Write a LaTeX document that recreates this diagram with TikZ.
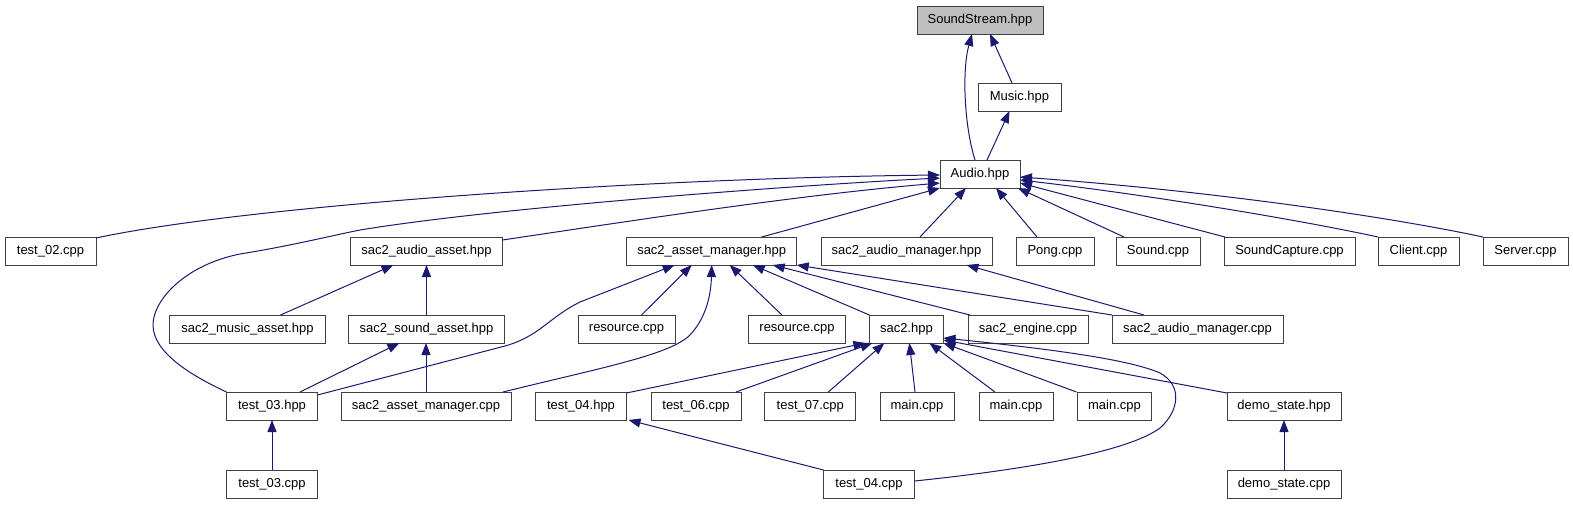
\documentclass[tikz,border=0pt]{standalone}
\usepackage{fontspec}
\setmainfont{Liberation Sans}
\usetikzlibrary{arrows.meta,calc}
\definecolor{edgeblue}{HTML}{191970}
\definecolor{boxline}{HTML}{404040}
\definecolor{boxgray}{HTML}{BFBFBF}
\tikzset{
  box/.style={draw=boxline, line width=1pt, fill=white, minimum height=28pt, inner sep=0pt, outer sep=0pt, font={\fontsize{13pt}{15pt}\selectfont}},
  bw/.style={minimum width=#1pt},
  dep/.style={draw=edgeblue, line width=1pt, -{Triangle[length=12pt,width=9pt]}}
}
\begin{document}
\begin{tikzpicture}[x=1pt,y=-1pt]
\useasboundingbox (0,0) rectangle (1573,504);
% row 0-2
\node[box,bw=126,fill=boxgray] (ss) at (980,20) {SoundStream.hpp};
\node[box,bw=83] (music) at (1019.5,97) {Music.hpp};
\node[box,bw=80] (audio) at (980,174) {Audio.hpp};
% row 3
\node[box,bw=91] (test02) at (50.5,251) {test\_02.cpp};
\node[box,bw=152] (audioasset) at (426.5,251) {sac2\_audio\_asset.hpp};
\node[box,bw=170] (assetmgr) at (711.7,251) {sac2\_asset\_manager.hpp};
\node[box,bw=171] (audiomgrh) at (906.5,251) {sac2\_audio\_manager.hpp};
\node[box,bw=78] (pong) at (1055,251) {Pong.cpp};
\node[box,bw=84] (sound) at (1158,251) {Sound.cpp};
\node[box,bw=131] (capture) at (1289.5,251) {SoundCapture.cpp};
\node[box,bw=81] (client) at (1418.5,251) {Client.cpp};
\node[box,bw=85] (server) at (1525.5,251) {Server.cpp};
% row 4
\node[box,bw=156] (musicasset) at (247.5,329) {sac2\_music\_asset.hpp};
\node[box,bw=156] (soundasset) at (426.5,329) {sac2\_sound\_asset.hpp};
\node[box,bw=97] (res1) at (626.5,329) {resource.cpp};
\node[box,bw=97] (res2) at (797,329) {resource.cpp};
\node[box,bw=74] (sac2) at (906.4,329) {sac2.hpp};
\node[box,bw=120] (engine) at (1028,329) {sac2\_engine.cpp};
\node[box,bw=171] (audiomgrc) at (1197.5,329) {sac2\_audio\_manager.cpp};
% row 5
\node[box,bw=91] (test03h) at (272,406) {test\_03.hpp};
\node[box,bw=170] (assetmgrc) at (426,406) {sac2\_asset\_manager.cpp};
\node[box,bw=91] (test04h) at (581,406) {test\_04.hpp};
\node[box,bw=90] (test06) at (696,406) {test\_06.cpp};
\node[box,bw=91] (test07) at (810.3,406) {test\_07.cpp};
\node[box,bw=74] (main1) at (917,406) {main.cpp};
\node[box,bw=74] (main2) at (1016,406) {main.cpp};
\node[box,bw=74] (main3) at (1114.5,406) {main.cpp};
\node[box,bw=114] (demoh) at (1284,406) {demo\_state.hpp};
% row 6
\node[box,bw=91] (test03c) at (272,484) {test\_03.cpp};
\node[box,bw=91] (test04c) at (869,484) {test\_04.cpp};
\node[box,bw=114] (democ) at (1284,484) {demo\_state.cpp};

% top edges
\draw[dep] ($(audio.north)+(-5,0)$) .. controls (964,125) and (962,70) .. ($(ss.south)+(-8,0)$);
\draw[dep] ($(music.north)+(-7.5,0)$) -- ($(ss.south)+(10,0)$);
\draw[dep] ($(audio.north)+(7,0)$) -- ($(music.south)+(-10,0)$);
% into Audio.hpp
\draw[dep] ($(test02.north east)+(0,1)$) .. controls (250,205) and (650,178) .. ($(audio.west)+(0,1)$);
\draw[dep] (test03h.north west) .. controls (190,375) and (153,352) .. (153,325)
  .. controls (153,300) and (185,265) .. (240,254)
  .. controls (290,246) and (330,236) .. (360,230)
  .. controls (500,207) and (800,185) .. ($(audio.west)+(0,4)$);
\draw[dep] ($(audioasset.north east)+(0,3)$) .. controls (650,218) and (800,195) .. ($(audio.west)+(0,9)$);
\draw[dep] ($(assetmgr.north)+(50,0)$) -- (audio.south west);
\draw[dep] ($(audiomgrh.north)+(13.5,0)$) -- ($(audio.south)+(-14,0)$);
\draw[dep] ($(pong.north)+(-18,0)$) -- ($(audio.south)+(16,0)$);
\draw[dep] ($(sound.north)+(-34,0)$) -- ($(audio.south east)+(-2,0)$);
\draw[dep] ($(capture.north west)+(1,0)$) -- ($(audio.east)+(0,9)$);
\draw[dep] (client.north west) .. controls (1300,220) and (1150,195) .. ($(audio.east)+(0,6)$);
\draw[dep] (server.north west) .. controls (1380,215) and (1200,190) .. ($(audio.east)+(0,3)$);
% row 4 -> row 3
\draw[dep] ($(musicasset.north)+(33,0)$) -- ($(audioasset.south)+(-33,0)$);
\draw[dep] (soundasset.north) -- (audioasset.south);
\draw[dep] ($(res1.north)+(15,0)$) -- ($(assetmgr.south)+(-20,0)$);
\draw[dep] ($(res2.north)+(-15,0)$) -- ($(assetmgr.south)+(18,0)$);
\draw[dep] (sac2.north west) -- ($(assetmgr.south)+(41,0)$);
\draw[dep] ($(engine.north west)+(2,0)$) -- ($(assetmgr.south)+(61,0)$);
\draw[dep] (audiomgrc.north west) -- (assetmgr.south east);
\draw[dep] ($(audiomgrc.north west)+(32,0)$) -- ($(audiomgrh.south)+(60,0)$);
% row 5 -> upper rows
\draw[dep] ($(test03h.north)+(28,0)$) -- ($(soundasset.south)+(-27,0)$);
\draw[dep] ($(test03h.north east)+(0,3)$) -- (505,346) .. controls (540,336) and (548,318) .. (580,302) -- ($(assetmgr.south)+(-37,0)$);
\draw[dep] (assetmgrc.north) -- (assetmgrc.north |- soundasset.south);
\draw[dep] ($(assetmgrc.north east)+(-8,0)$) .. controls (600,368) and (670,355) .. (690,335) .. controls (706,318) and (711,295) .. (assetmgr.south);
\draw[dep] ($(test04h.north east)+(0,1)$) -- ($(sac2.south west)+(-4,0)$);
\draw[dep] ($(test06.north)+(40,0)$) -- ($(sac2.south west)+(3,0)$);
\draw[dep] ($(test07.north)+(18,0)$) -- ($(sac2.south)+(-22,0)$);
\draw[dep] ($(main1.north)+(-2,0)$) -- ($(sac2.south)+(3,0)$);
\draw[dep] ($(main2.north)+(-21,0)$) -- ($(sac2.south)+(23,0)$);
\draw[dep] ($(main3.north)+(-38,0)$) -- (sac2.south east);
\draw[dep] ($(demoh.north west)+(0,1)$) -- ($(sac2.south east)+(0,-3)$);
\draw[dep] ($(test04c.east)+(0,-3)$) .. controls (1040,468) and (1130,450) .. (1160,428)
  .. controls (1180,410) and (1182,385) .. (1160,373)
  .. controls (1130,360) and (1060,350) .. ($(sac2.east)+(0,9)$);
% row 6
\draw[dep] (test03c.north) -- (test03h.south);
\draw[dep] (test04c.north west) -- ($(test04h.south east)+(2,0)$);
\draw[dep] (democ.north) -- (demoh.south);
\end{tikzpicture}
\end{document}
